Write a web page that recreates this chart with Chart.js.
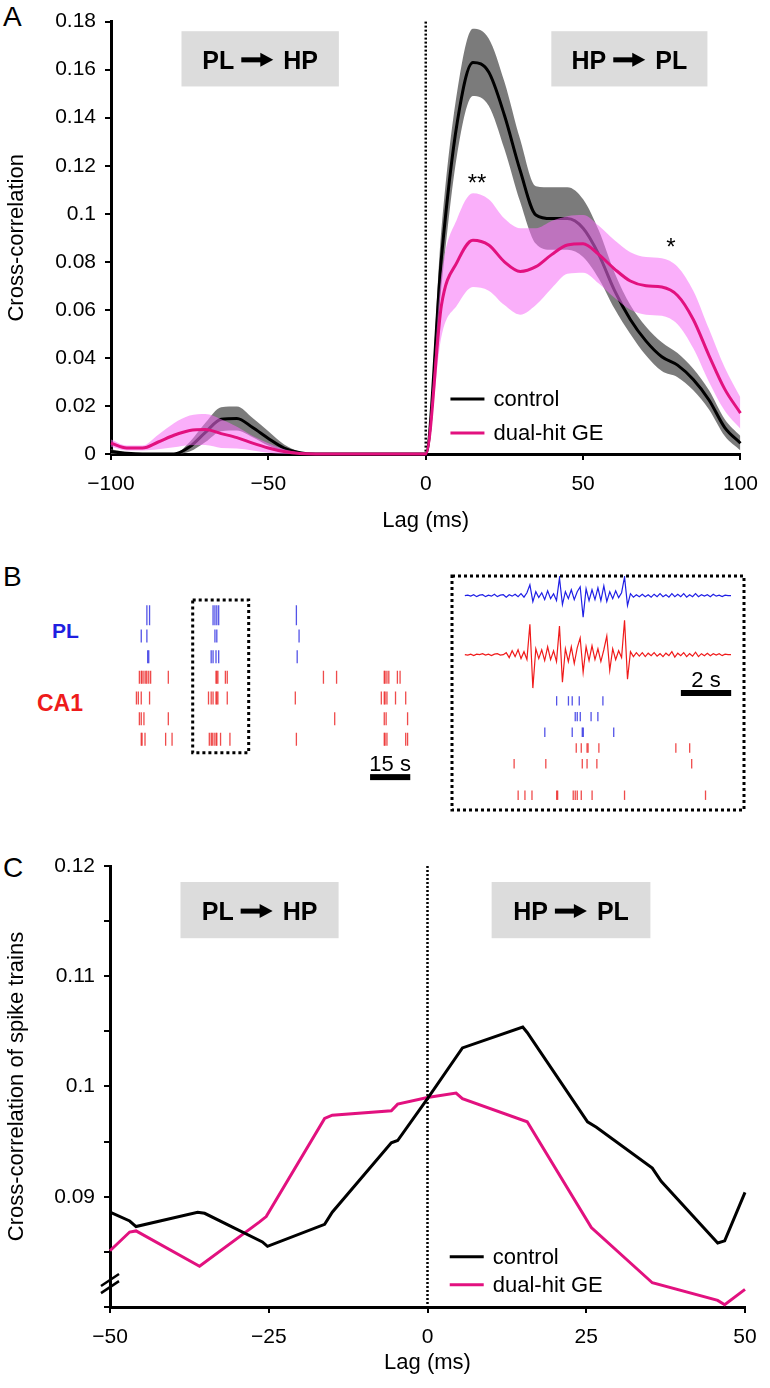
<!DOCTYPE html>
<html>
<head>
<meta charset="utf-8">
<title>PL / HP cross-correlation</title>
<script src="https://cdn.jsdelivr.net/npm/chart.js@4.4.1/dist/chart.umd.min.js"></script>
<style>
  html, body { margin: 0; padding: 0; background: #fff; }
  body { position: relative; width: 770px; height: 1388px; overflow: hidden;
         font-family: "Liberation Sans", Arial, Helvetica, sans-serif; }
  canvas { position: absolute; }
  .panel { position: absolute; font-size: 28px; line-height: 28px; color: #000; }
  .row-label { position: absolute; font-weight: bold; }
</style>
</head>
<body>
<div class="panel" style="left:3px;top:3px">A</div>
<div class="panel" style="left:3px;top:563px">B</div>
<div class="panel" style="left:3px;top:854px">C</div>
<div class="row-label" style="left:52px;top:620px;font-size:21px;line-height:21px;color:#1f1fe0">PL</div>
<div class="row-label" style="left:37px;top:692px;font-size:23px;line-height:23px;color:#ee1b1b">CA1</div>

<canvas id="chartA" width="770" height="545" style="left:0;top:0"></canvas>
<canvas id="chartRaster" width="345" height="222" style="left:100px;top:578px"></canvas>
<canvas id="chartInset" width="304" height="246" style="left:446px;top:570px"></canvas>
<canvas id="chartC" width="770" height="573" style="left:0;top:815px"></canvas>

<script>
const FONT = '"Liberation Sans", Arial, Helvetica, sans-serif';
Chart.defaults.font.family = FONT;
Chart.defaults.color = '#000';

// Panel A - LFP cross-correlation, lag in ms
const lagA = [-100,-95,-90,-85,-80,-75,-70,-65,-60,-55,-50,-45,-40,-35,-30,-25,-20,-15,-10,-5,
              0,5,10,15,20,25,30,35,40,45,50,55,60,65,70,75,80,85,90,95,100];
const controlMean = [0.001,0.0003,0,0,0,0.003,0.009,0.0145,0.0148,0.011,0.0065,0.0025,0.0005,0,0,0,0,0,0,0,
                     0,0.082,0.138,0.163,0.159,0.141,0.118,0.0995,0.098,0.098,0.094,0.083,0.068,0.056,0.047,0.0405,0.037,0.031,0.0225,0.011,0.0045];
const controlSem  = [0.001,0.0005,0,0,0,0.002,0.004,0.005,0.005,0.004,0.003,0.0015,0.0005,0,0,0,0,0,0,0,
                     0,0.012,0.013,0.014,0.014,0.014,0.013,0.012,0.013,0.013,0.012,0.010,0.0075,0.006,0.006,0.006,0.005,0.0045,0.004,0.0035,0.003];
const dualMean    = [0.0045,0.0025,0.0025,0.005,0.0078,0.0098,0.0102,0.0085,0.0068,0.0045,0.0025,0.001,0.0002,0,0,0,0,0,0,0,
                     0,0.062,0.080,0.089,0.087,0.080,0.076,0.078,0.083,0.087,0.0875,0.083,0.077,0.072,0.070,0.0695,0.066,0.056,0.041,0.027,0.017];
const dualSem     = [0.0015,0.001,0.001,0.003,0.005,0.0062,0.0065,0.006,0.0045,0.003,0.002,0.001,0.0003,0,0,0,0,0,0,0,
                     0,0.013,0.018,0.0195,0.019,0.018,0.018,0.016,0.014,0.012,0.012,0.012,0.012,0.012,0.012,0.012,0.012,0.012,0.011,0.009,0.0065];

// Panel B - spike rasters (s) and example traces
const rasterPL = [
  [6.3,7.3,31.0,31.7,32.4,33.1,62.1],
  [4.2,6.3,31.7,32.4,63.1],
  [6.6,7.0,30.3,31.0,32.1,33.1,62.4]
];
const rasterCA1 = [
  [3.5,4.2,4.5,5.2,5.9,6.3,7.0,7.7,14.3,32.1,32.4,32.8,35.6,36.3,72.2,77.1,94.9,95.2,95.9,96.6,99.8,100.8],
  [2.4,3.1,4.2,7.3,29.3,30.3,31.0,32.1,32.4,32.8,36.3,61.7,93.8,94.9,95.2,95.9,99.1,102.9],
  [3.5,4.2,5.2,14.3,76.4,94.9,95.6,103.6],
  [4.2,4.5,5.6,13.3,15.7,29.6,30.3,30.7,31.4,32.1,32.4,33.8,37.3,62.1,94.9,95.2,95.9,102.9,103.6]
];
const insetPL = [
  [3.65,4.12,4.27,4.55,5.49],
  [4.39,4.47,4.59,5.02,5.29],
  [3.18,4.27,4.67,4.71,5.92]
];
const insetCA1 = [
  [4.43,4.63,4.86,4.90,5.33,8.39,8.94],
  [1.96,3.22,4.67,4.86,5.25,9.02],
  [],
  [2.12,2.39,2.67,3.65,3.69,4.31,4.39,4.47,4.63,5.06,6.35,9.57]
];
const traceStep = 0.1176; // s between trace samples
const tracePL = [
  0,0.5,-0.5,1,-1,0.5,1,-1,0.5,-0.5,
  1.5,-1,0.5,1,-1.5,1,-0.5,1.5,-1,2,
  -1.5,3,11,-6,4,-2,3,-4,5,-3,
  2,-5,18,-9,4,-3,6,-4,4,9,
  -22,7,-5,6,-4,8,-5,10,-6,4,
  -3,5,-2,3,19,-10,2,-1.5,1,-1,
  1.5,-1,1,-1.5,1.5,-1,2,-1,1,-1.5,
  2,-1,1.5,-1,2,-1.5,1,-1,2,-1,
  1,-0.5,1,-1,1.5,-0.5,0.5,-1,0.5,0,0
];
const traceCA1 = [
  0,-0.5,0.5,-1,0.5,0,1,-0.5,0.5,-1,
  0.5,1,-0.5,0,2,-3,4,-2,5,-4,
  3,-5,31,-34,6,-4,5,-6,8,-5,
  4,-7,29,-28,6,-7,8,-9,7,17,
  -18,8,-6,9,-5,6,-7,5,19,-16,
  6,-5,4,-3,35,-25,3,-2,2,-1.5,
  2,-2,1.5,-1,2,-1.5,1,-2,1.5,-1,
  3,-2.5,1.5,-1,2,-2,1,-1.5,2.5,-2,
  1,-1,1.5,-1,1,-0.5,1,-1,0.5,0,0
];

// Panel C - spike-train cross-correlation
const lagControlC = [-50,-46.9,-45.9,-36.2,-35.1,-26,-25.2,-16.2,-15,-5.7,-4.7,0,5.5,15,15.7,25.2,26.6,35.4,36.8,45.7,46.8,50];
const controlC    = [0.0886,0.0878,0.0873,0.0886,0.0885,0.0859,0.0855,0.0875,0.0886,0.0949,0.0951,0.0989,0.1035,0.1054,0.1049,0.0968,0.0963,0.0926,0.0914,0.0858,0.0860,0.0904];
const lagDualC    = [-50,-46.9,-45.9,-35.9,-26.5,-25.4,-16.2,-15,-5.7,-4.7,0,4.5,5.5,15.7,25.8,35.4,45.7,46.8,50];
const dualC       = [0.0851,0.0868,0.0869,0.0837,0.0877,0.0882,0.0971,0.0974,0.0978,0.0984,0.0990,0.0994,0.0989,0.0968,0.0872,0.0822,0.0806,0.0802,0.0816];

// annotations
const boxesA = [{x0:-77.6, x1:-27.6, y0:0.153, y1:0.176, from:'PL', to:'HP'},
                {x0:39.9, x1:89.5, y0:0.153, y1:0.176, from:'HP', to:'PL'}];
const boxesC = [{x0:-38.9, x1:-14.0, y0:0.11345, y1:0.11855, from:'PL', to:'HP'},
                {x0:10.1, x1:35.1, y0:0.11345, y1:0.11855, from:'HP', to:'PL'}];
const starsA = [{x:16.3, y:0.1155, text:'**'}, {x:77.9, y:0.0886, text:'*'}];

const BLACK = '#000';
const MAGENTA = '#e2117f';
const BLUE = '#1f1fe6';
const RED = '#f01a1a';

const toXY = (xs, ys) => xs.map((x, i) => ({x: x, y: ys[i]}));
const plus = (m, s) => m.map((v, i) => v + s[i]);
const minus = (m, s) => m.map((v, i) => v - s[i]);
const fmtLag = v => v < 0 ? '\u2212' + Math.abs(v) : String(v);

function dottedV(chart, xVal) {
  const {ctx, chartArea, scales} = chart;
  const px = scales.x.getPixelForValue(xVal);
  ctx.save();
  ctx.strokeStyle = BLACK;
  ctx.lineWidth = 2.5;
  ctx.setLineDash([2, 2]);
  ctx.beginPath();
  ctx.moveTo(px, chartArea.top);
  ctx.lineTo(px, chartArea.bottom);
  ctx.stroke();
  ctx.restore();
}

function drawBoxes(chart, boxes) {
  const {ctx, scales: {x, y}} = chart;
  ctx.save();
  boxes.forEach(b => {
    const l = x.getPixelForValue(b.x0), r = x.getPixelForValue(b.x1);
    const t = y.getPixelForValue(b.y1), bt = y.getPixelForValue(b.y0);
    ctx.fillStyle = '#dcdcdc';
    ctx.fillRect(l, t, r - l, bt - t);
    ctx.font = 'bold 25px ' + FONT;
    const w1 = ctx.measureText(b.from).width, w2 = ctx.measureText(b.to).width;
    const arrow = 32, g1 = 7, g2 = 10;
    const cx = (l + r) / 2 - (w1 + g1 + arrow + g2 + w2) / 2;
    const cy = (t + bt) / 2 + 1;
    const base = cy + 9;
    ctx.fillStyle = BLACK;
    ctx.textAlign = 'left';
    ctx.textBaseline = 'alphabetic';
    ctx.fillText(b.from, cx, base);
    const ax = cx + w1 + g1;
    ctx.fillRect(ax, cy - 2.5, arrow - 11, 5);
    ctx.beginPath();
    ctx.moveTo(ax + arrow - 13, cy - 7);
    ctx.lineTo(ax + arrow, cy);
    ctx.lineTo(ax + arrow - 13, cy + 7);
    ctx.closePath();
    ctx.fill();
    ctx.fillText(b.to, ax + arrow + g2, base);
  });
  ctx.restore();
}

function drawLegend(chart, at) {
  const {ctx, scales: {x, y}} = chart;
  const px = x.getPixelForValue(at.x), py = y.getPixelForValue(at.y);
  ctx.save();
  ctx.font = '22px ' + FONT;
  ctx.textBaseline = 'middle';
  ctx.textAlign = 'left';
  chart.data.datasets.filter(d => d.inLegend).forEach((d, i) => {
    const ly = py + i * at.gap;
    ctx.strokeStyle = d.borderColor;
    ctx.lineWidth = 3;
    ctx.beginPath();
    ctx.moveTo(px, ly);
    ctx.lineTo(px + 34, ly);
    ctx.stroke();
    ctx.fillStyle = BLACK;
    ctx.fillText(d.label, px + 43, ly + 1);
  });
  ctx.restore();
}

function xAxis(min, max, step, height, titlePad) {
  return {
    type: 'linear', min: min, max: max,
    border: {display: true, color: BLACK, width: 3},
    grid: {display: true, drawOnChartArea: false, drawTicks: true, tickLength: 6, color: BLACK, lineWidth: 2},
    ticks: {stepSize: step, autoSkip: false, maxRotation: 0, padding: 12, color: BLACK,
            font: {size: 21}, callback: v => fmtLag(v)},
    title: {display: true, text: 'Lag (ms)', color: BLACK, font: {size: 22}, padding: {top: 4, bottom: titlePad}},
    afterFit: s => { s.height = height; }
  };
}

function yAxis(min, max, step, title, labelFn, width) {
  return {
    type: 'linear', min: min, max: max,
    border: {display: true, color: BLACK, width: 3},
    grid: {display: true, drawOnChartArea: false, drawTicks: true, tickLength: 6, color: BLACK, lineWidth: 2},
    ticks: {stepSize: step, autoSkip: false, padding: 9, color: BLACK, font: {size: 21}, callback: labelFn},
    title: {display: true, text: title, color: BLACK, font: {size: 22}, padding: {top: 4, bottom: 4}},
    afterFit: s => { s.width = width; }
  };
}

// ---------- Panel A ----------
const annotA = {
  id: 'annotA',
  beforeDatasetsDraw(chart) { dottedV(chart, 0); },
  afterDatasetsDraw(chart) {
    drawBoxes(chart, boxesA);
    const {ctx, scales: {x, y}} = chart;
    ctx.save();
    ctx.font = '24px ' + FONT;
    ctx.fillStyle = BLACK;
    ctx.textAlign = 'center';
    ctx.textBaseline = 'alphabetic';
    starsA.forEach(s => ctx.fillText(s.text, x.getPixelForValue(s.x), y.getPixelForValue(s.y) + 14));
    ctx.restore();
    drawLegend(chart, {x: 7.85, y: 0.0229, gap: 34});
  }
};

const lineBase = {pointRadius: 0, cubicInterpolationMode: 'monotone', clip: 5};
new Chart(document.getElementById('chartA'), {
  type: 'line',
  data: {
    datasets: [
      Object.assign({label: 'control +sem', data: toXY(lagA, plus(controlMean, controlSem)),
        borderColor: 'transparent', borderWidth: 0, fill: false, order: 3}, lineBase),
      Object.assign({label: 'control -sem', data: toXY(lagA, minus(controlMean, controlSem)),
        borderColor: 'transparent', borderWidth: 0, fill: '-1', backgroundColor: 'rgba(100,100,100,0.85)', order: 3}, lineBase),
      Object.assign({label: 'control', data: toXY(lagA, controlMean), borderColor: BLACK, borderWidth: 3,
        fill: false, order: 2, inLegend: true}, lineBase),
      Object.assign({label: 'dual +sem', data: toXY(lagA, plus(dualMean, dualSem)),
        borderColor: 'transparent', borderWidth: 0, fill: false, order: 1}, lineBase),
      Object.assign({label: 'dual -sem', data: toXY(lagA, minus(dualMean, dualSem)),
        borderColor: 'transparent', borderWidth: 0, fill: '-1', backgroundColor: 'rgba(245,110,245,0.55)', order: 1}, lineBase),
      Object.assign({label: 'dual-hit GE', data: toXY(lagA, dualMean), borderColor: MAGENTA, borderWidth: 3,
        fill: false, order: 0, inLegend: true}, lineBase)
    ]
  },
  options: {
    responsive: false, animation: false, events: [],
    layout: {padding: {top: 13, right: 22, left: 0, bottom: 0}},
    plugins: {legend: {display: false}, tooltip: {enabled: false}},
    scales: {
      x: xAxis(-100, 100, 50, 91, 11),
      y: yAxis(0, 0.18, 0.02, 'Cross-correlation', v => {
        const r = Math.round(v * 100) / 100;
        return r === 0 ? '0' : String(r);
      }, 111)
    }
  },
  plugins: [annotA]
});

// ---------- Panel B: raster ----------
function rasterSets(rowsPL, rowsCA1, radius, firstRadius) {
  const sets = [];
  rowsPL.forEach((times, i) => sets.push({
    data: times.map(t => ({x: t, y: i + 1})), yAxisID: 'yRow',
    pointStyle: 'line', pointRotation: 90, pointRadius: i === 0 ? firstRadius : radius,
    pointBorderColor: 'rgba(40,40,225,0.8)', pointBorderWidth: 1.3, showLine: false
  }));
  rowsCA1.forEach((times, i) => sets.push({
    data: times.map(t => ({x: t, y: rowsPL.length + i + 1})), yAxisID: 'yRow',
    pointStyle: 'line', pointRotation: 90, pointRadius: radius,
    pointBorderColor: 'rgba(235,30,30,0.8)', pointBorderWidth: 1.3, showLine: false
  }));
  return sets;
}

function dottedRect(ctx, l, t, r, b) {
  ctx.save();
  ctx.strokeStyle = BLACK;
  ctx.lineWidth = 3;
  ctx.setLineDash([3, 3]);
  ctx.strokeRect(l, t, r - l, b - t);
  ctx.restore();
}

function scaleBar(chart, x0, x1, row, labelRow, text) {
  const {ctx, scales} = chart;
  const l = scales.x.getPixelForValue(x0), r = scales.x.getPixelForValue(x1);
  const py = scales.yRow.getPixelForValue(row);
  ctx.save();
  ctx.fillStyle = BLACK;
  ctx.fillRect(l, py - 3, r - l, 6);
  ctx.font = '22px ' + FONT;
  ctx.textAlign = 'center';
  ctx.textBaseline = 'alphabetic';
  ctx.fillText(text, (l + r) / 2, scales.yRow.getPixelForValue(labelRow));
  ctx.restore();
}

const annotRaster = {
  id: 'annotRaster',
  afterDatasetsDraw(chart) {
    const {ctx, scales} = chart;
    dottedRect(ctx, scales.x.getPixelForValue(23.4), scales.yRow.getPixelForValue(0.26),
               scales.x.getPixelForValue(44.3), scales.yRow.getPixelForValue(7.65));
    scaleBar(chart, 89.6, 104.6, 8.83, 8.52, '15 s');
  }
};

new Chart(document.getElementById('chartRaster'), {
  type: 'scatter',
  data: {datasets: rasterSets(rasterPL, rasterCA1, 6.5, 10)},
  options: {
    responsive: false, animation: false, events: [],
    layout: {padding: 0},
    plugins: {legend: {display: false}, tooltip: {enabled: false}},
    scales: {
      x: {type: 'linear', display: false, min: -6.98, max: 113.35},
      yRow: {type: 'linear', display: false, reverse: true, min: -0.26, max: 9.39}
    }
  },
  plugins: [annotRaster]
});

// ---------- Panel B: inset ----------
const traceT = tracePL.map((v, i) => i * traceStep);
const insetSets = rasterSets(insetPL, insetCA1, 4.7, 4.7);
insetSets.push({data: toXY(traceT, tracePL), yAxisID: 'yPL', showLine: true, pointRadius: 0,
                borderColor: BLUE, borderWidth: 1.2});
insetSets.push({data: toXY(traceT, traceCA1), yAxisID: 'yCA1', showLine: true, pointRadius: 0,
                borderColor: RED, borderWidth: 1.2});

const annotInset = {
  id: 'annotInset',
  afterDatasetsDraw(chart) {
    const a = chart.chartArea;
    dottedRect(chart.ctx, a.left, a.top, a.right, a.bottom);
    scaleBar(chart, 8.59, 10.59, 0.5, 0.125, '2 s');
  }
};

new Chart(document.getElementById('chartInset'), {
  type: 'scatter',
  data: {datasets: insetSets},
  options: {
    responsive: false, animation: false, events: [],
    layout: {padding: 4},
    plugins: {legend: {display: false}, tooltip: {enabled: false}},
    scales: {
      x: {type: 'linear', display: false, min: -0.51, max: 11.10},
      yRow: {type: 'linear', display: false, reverse: true, min: -6.94, max: 7.94},
      yPL: {type: 'linear', display: false, min: -218, max: 20},
      yCA1: {type: 'linear', display: false, min: -158, max: 80}
    }
  },
  plugins: [annotInset]
});

// ---------- Panel C ----------
const annotC = {
  id: 'annotC',
  beforeDatasetsDraw(chart) { dottedV(chart, 0); },
  afterDatasetsDraw(chart) {
    drawBoxes(chart, boxesC);
    drawLegend(chart, {x: 3.5, y: 0.08455, gap: 28});
  },
  afterDraw(chart) {
    const {ctx, chartArea, scales: {y}} = chart;
    ctx.save();
    ctx.strokeStyle = BLACK;
    ctx.lineWidth = 2.5;
    [0.08245, 0.08180].forEach(v => {
      const py = y.getPixelForValue(v);
      ctx.beginPath();
      ctx.moveTo(chartArea.left - 9, py + 6);
      ctx.lineTo(chartArea.left + 9, py - 6);
      ctx.stroke();
    });
    ctx.restore();
  }
};

new Chart(document.getElementById('chartC'), {
  type: 'line',
  data: {
    datasets: [
      {label: 'control', data: toXY(lagControlC, controlC), borderColor: BLACK, borderWidth: 3,
       pointRadius: 0, tension: 0, fill: false, clip: 5, inLegend: true},
      {label: 'dual-hit GE', data: toXY(lagDualC, dualC), borderColor: MAGENTA, borderWidth: 3,
       pointRadius: 0, tension: 0, fill: false, clip: 5, inLegend: true}
    ]
  },
  options: {
    responsive: false, animation: false, events: [],
    layout: {padding: {top: 51, right: 25, left: 0, bottom: 0}},
    plugins: {legend: {display: false}, tooltip: {enabled: false}},
    scales: {
      x: xAxis(-50, 50, 25, 81, 12),
      y: yAxis(0.08, 0.12, 0.005, 'Cross-correlation of spike trains', v => {
        const m = Math.round(v * 1000);
        if (m % 10 !== 0 || m < 90) return '';
        return String(m / 1000);
      }, 110)
    }
  },
  plugins: [annotC]
});
</script>
</body>
</html>
